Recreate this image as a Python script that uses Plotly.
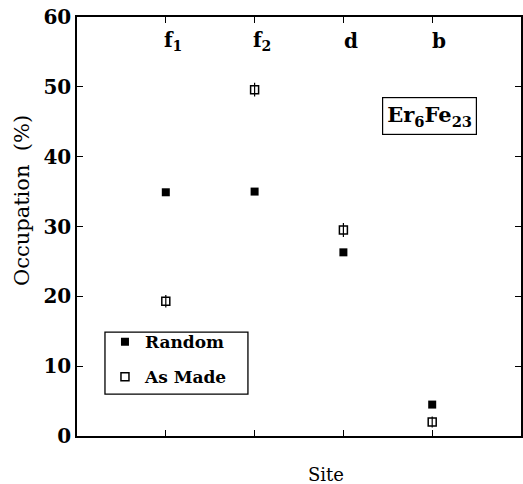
import plotly.graph_objects as go

sites = ["f<sub>1</sub>", "f<sub>2</sub>", "d", "b"]
site_pos = [1, 2, 3, 4]
random_occ = [34.9, 35.0, 26.3, 4.5]
asmade_occ = [19.3, 49.6, 29.5, 2.0]
asmade_err = [0.9, 1.0, 1.0, 0.8]
y_ticks = [0, 10, 20, 30, 40, 50, 60]

SERIF = "DejaVu Serif"

fig = go.Figure()
fig.add_trace(go.Scatter(
    x=site_pos, y=random_occ, mode="markers", name="Random",
    legendgroup="r",
    marker=dict(symbol="square", size=8, color="black"),
))
fig.add_trace(go.Scatter(
    x=site_pos, y=asmade_occ, mode="markers", name="As Made",
    legendgroup="a",
    marker=dict(symbol="square-open", size=8, color="black", line=dict(width=1.5)),
    error_y=dict(type="data", array=asmade_err, color="black", thickness=1.2, width=0),
))

for s, p in zip(sites, site_pos):
    fig.add_annotation(x=p + 0.08, y=56.6, text="<b>%s</b>" % s, showarrow=False,
                       font=dict(family=SERIF, size=20, color="black"))

fig.add_annotation(x=0.794, y=0.764, xref="paper", yref="paper",
                   xanchor="center", yanchor="middle",
                   text="<b>Er<sub>6</sub>Fe<sub>23</sub></b>", showarrow=False,
                   font=dict(family=SERIF, size=21, color="black"),
                   bordercolor="black", borderwidth=1.2, borderpad=4, bgcolor="white")

fig.add_annotation(x=0.56, y=-0.093, xref="paper", yref="paper", text="Site",
                   showarrow=False, yanchor="middle",
                   font=dict(family=SERIF, size=18, color="black"))

fig.add_annotation(x=-0.124, y=0.563, xref="paper", yref="paper",
                   text="Occupation&nbsp; (%)", textangle=-90, showarrow=False,
                   xanchor="center", yanchor="middle",
                   font=dict(family=SERIF, size=21, color="black"))

# legend frame
fig.add_shape(type="rect", xref="paper", yref="paper",
              x0=0.063, x1=0.385, y0=0.100, y1=0.248,
              line=dict(color="black", width=1.3))

fig.update_xaxes(range=[0, 5], tickvals=site_pos, showticklabels=False,
                 ticks="inside", ticklen=6, tickcolor="black", mirror="ticks",
                 showline=True, linecolor="black", linewidth=1.5,
                 showgrid=False, zeroline=False, automargin=False)
fig.update_yaxes(range=[0, 60], tickvals=y_ticks, automargin=False,
                 ticks="inside", ticklen=6, tickcolor="black", mirror="ticks",
                 showline=True, linecolor="black", linewidth=1.5,
                 showgrid=False, zeroline=False,
                 tickfont=dict(family=SERIF, size=20, color="black", weight="bold"))

fig.update_layout(
    width=523, height=484,
    margin=dict(l=77, r=2, t=17, b=48, autoexpand=False),
    plot_bgcolor="white", paper_bgcolor="white",
    showlegend=True,
    legend=dict(x=0.063, y=0.267, xanchor="left", yanchor="top",
                borderwidth=0, bgcolor="rgba(0,0,0,0)",
                tracegroupgap=10, itemsizing="trace",
                font=dict(family=SERIF, size=17, color="black", weight="bold")),
)

fig.write_html("out.html", config={"displayModeBar": False},
               post_script="document.body.style.margin='0px';document.body.style.overflow='hidden';")
